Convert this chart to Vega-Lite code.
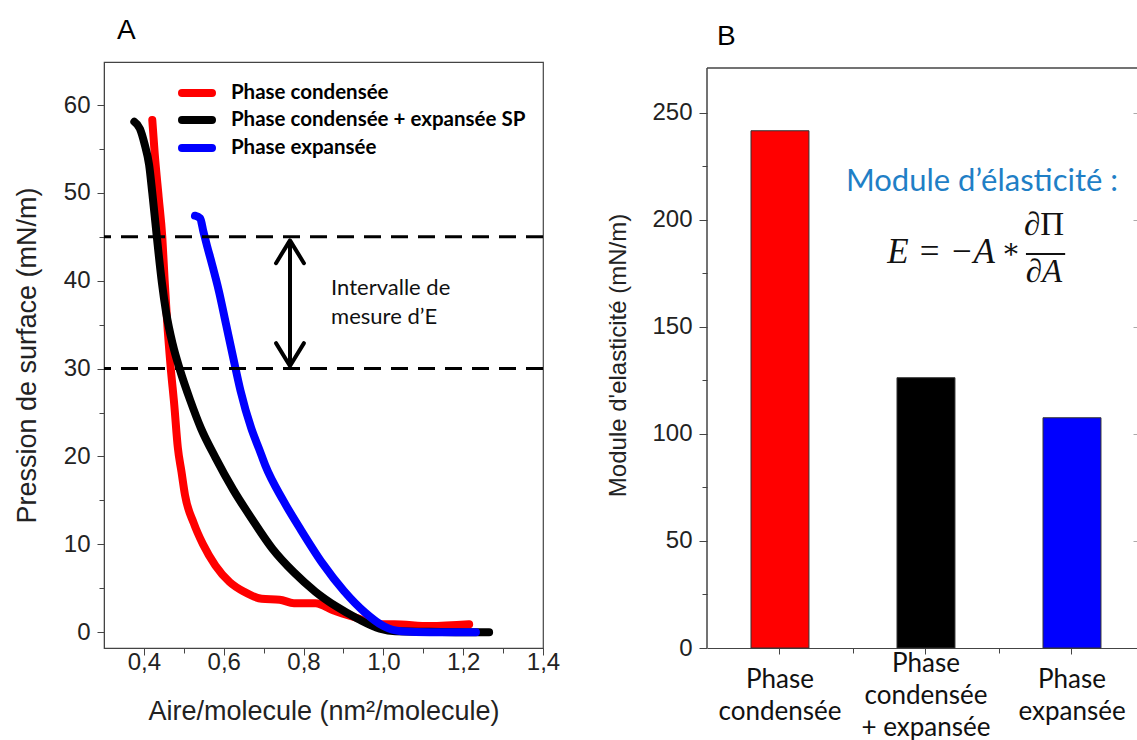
{
  "$schema": "https://vega.github.io/schema/vega-lite/v6.json",
  "background": "white",
  "padding": {"left": 12, "top": 16, "right": 0, "bottom": 0},
  "spacing": 164,
  "bounds": "flush",
  "config": {
    "view": {"stroke": "#444", "strokeWidth": 1.2},
    "axis": {"grid": false, "labelOverlap": false, "labelFlush": false}
  },
  "datasets": {
    "curves": [
      {"s": "Phase condensée", "x": 0.421, "y": 58.3},
      {"s": "Phase condensée", "x": 0.427, "y": 54.5},
      {"s": "Phase condensée", "x": 0.437, "y": 49.5},
      {"s": "Phase condensée", "x": 0.446, "y": 45.0},
      {"s": "Phase condensée", "x": 0.452, "y": 40.0},
      {"s": "Phase condensée", "x": 0.458, "y": 35.5},
      {"s": "Phase condensée", "x": 0.467, "y": 30.2},
      {"s": "Phase condensée", "x": 0.476, "y": 25.9},
      {"s": "Phase condensée", "x": 0.485, "y": 21.0},
      {"s": "Phase condensée", "x": 0.494, "y": 18.3},
      {"s": "Phase condensée", "x": 0.503, "y": 15.6},
      {"s": "Phase condensée", "x": 0.525, "y": 12.4},
      {"s": "Phase condensée", "x": 0.548, "y": 10.0},
      {"s": "Phase condensée", "x": 0.579, "y": 7.6},
      {"s": "Phase condensée", "x": 0.615, "y": 5.7},
      {"s": "Phase condensée", "x": 0.651, "y": 4.6},
      {"s": "Phase condensée", "x": 0.695, "y": 3.8},
      {"s": "Phase condensée", "x": 0.74, "y": 3.7},
      {"s": "Phase condensée", "x": 0.776, "y": 3.3},
      {"s": "Phase condensée", "x": 0.83, "y": 3.3},
      {"s": "Phase condensée", "x": 0.874, "y": 2.5},
      {"s": "Phase condensée", "x": 0.928, "y": 1.7},
      {"s": "Phase condensée", "x": 0.991, "y": 0.9},
      {"s": "Phase condensée", "x": 1.027, "y": 0.9},
      {"s": "Phase condensée", "x": 1.116, "y": 0.7},
      {"s": "Phase condensée", "x": 1.215, "y": 0.9},
      {"s": "Phase condensée + expansée SP", "x": 0.376, "y": 58.1},
      {"s": "Phase condensée + expansée SP", "x": 0.39, "y": 57.3},
      {"s": "Phase condensée + expansée SP", "x": 0.402, "y": 55.5},
      {"s": "Phase condensée + expansée SP", "x": 0.413, "y": 53.2},
      {"s": "Phase condensée + expansée SP", "x": 0.421, "y": 50.0},
      {"s": "Phase condensée + expansée SP", "x": 0.429, "y": 46.5},
      {"s": "Phase condensée + expansée SP", "x": 0.437, "y": 43.0},
      {"s": "Phase condensée + expansée SP", "x": 0.445, "y": 39.8},
      {"s": "Phase condensée + expansée SP", "x": 0.456, "y": 36.3},
      {"s": "Phase condensée + expansée SP", "x": 0.472, "y": 32.8},
      {"s": "Phase condensée + expansée SP", "x": 0.49, "y": 29.9},
      {"s": "Phase condensée + expansée SP", "x": 0.516, "y": 26.4},
      {"s": "Phase condensée + expansée SP", "x": 0.543, "y": 23.2},
      {"s": "Phase condensée + expansée SP", "x": 0.579, "y": 19.9},
      {"s": "Phase condensée + expansée SP", "x": 0.624, "y": 16.2},
      {"s": "Phase condensée + expansée SP", "x": 0.669, "y": 13.0},
      {"s": "Phase condensée + expansée SP", "x": 0.722, "y": 9.5},
      {"s": "Phase condensée + expansée SP", "x": 0.776, "y": 6.8},
      {"s": "Phase condensée + expansée SP", "x": 0.83, "y": 4.6},
      {"s": "Phase condensée + expansée SP", "x": 0.883, "y": 2.9},
      {"s": "Phase condensée + expansée SP", "x": 0.937, "y": 1.5},
      {"s": "Phase condensée + expansée SP", "x": 0.991, "y": 0.4},
      {"s": "Phase condensée + expansée SP", "x": 1.03, "y": 0.1},
      {"s": "Phase condensée + expansée SP", "x": 1.116, "y": 0.05},
      {"s": "Phase condensée + expansée SP", "x": 1.206, "y": 0.0},
      {"s": "Phase condensée + expansée SP", "x": 1.265, "y": 0.0},
      {"s": "Phase expansée", "x": 0.528, "y": 47.4},
      {"s": "Phase expansée", "x": 0.541, "y": 47.1},
      {"s": "Phase expansée", "x": 0.549, "y": 45.6},
      {"s": "Phase expansée", "x": 0.558, "y": 44.0},
      {"s": "Phase expansée", "x": 0.57, "y": 42.0},
      {"s": "Phase expansée", "x": 0.588, "y": 38.8},
      {"s": "Phase expansée", "x": 0.606, "y": 35.0},
      {"s": "Phase expansée", "x": 0.624, "y": 31.2},
      {"s": "Phase expansée", "x": 0.642, "y": 27.5},
      {"s": "Phase expansée", "x": 0.669, "y": 23.2},
      {"s": "Phase expansée", "x": 0.69, "y": 20.7},
      {"s": "Phase expansée", "x": 0.704, "y": 19.0},
      {"s": "Phase expansée", "x": 0.749, "y": 15.0},
      {"s": "Phase expansée", "x": 0.794, "y": 11.6},
      {"s": "Phase expansée", "x": 0.848, "y": 7.8},
      {"s": "Phase expansée", "x": 0.901, "y": 4.7},
      {"s": "Phase expansée", "x": 0.955, "y": 2.2},
      {"s": "Phase expansée", "x": 1.0, "y": 0.7},
      {"s": "Phase expansée", "x": 1.045, "y": 0.1},
      {"s": "Phase expansée", "x": 1.116, "y": 0.0},
      {"s": "Phase expansée", "x": 1.232, "y": 0.0}
    ],
    "dash": [{"y": 45}, {"y": 30}],
    "shaft": [{"x": 0.766, "y": 30.3, "y2": 44.6}],
    "chev": [
      {"g": "top", "x": 0.731, "y": 42.0},
      {"g": "top", "x": 0.766, "y": 44.6},
      {"g": "top", "x": 0.801, "y": 42.0},
      {"g": "bot", "x": 0.731, "y": 32.9},
      {"g": "bot", "x": 0.766, "y": 30.3},
      {"g": "bot", "x": 0.801, "y": 32.9}
    ],
    "atext": [
      {"t": "Intervalle de", "x": 0.869, "y": 39.2},
      {"t": "mesure d’E", "x": 0.869, "y": 35.9}
    ],
    "leg": [
      {"s": "Phase condensée", "x": 0.4954, "x2": 0.5706, "tx": 0.618, "y": 61.37},
      {"s": "Phase condensée + expansée SP", "x": 0.4954, "x2": 0.5706, "tx": 0.618, "y": 58.29},
      {"s": "Phase expansée", "x": 0.4954, "x2": 0.5706, "tx": 0.618, "y": 55.11}
    ],
    "bars": [
      {"label": "Phase|condensée", "v": 241.5},
      {"label": "Phase|condensée|+ expansée", "v": 126.2},
      {"label": "Phase|expansée", "v": 107.5}
    ],
    "frameB": [
      {"x": 0, "x2": 0, "y": 0, "y2": 270.8},
      {"x": 0, "x2": 1, "y": 270.8, "y2": 270.8}
    ]
  },
  "hconcat": [
    {
      "width": 439,
      "height": 586,
      "title": {"text": "A", "anchor": "start", "frame": "group", "dx": 13, "offset": -5, "baseline": "alphabetic", "fontSize": 28, "font": "Liberation Sans", "fontWeight": "normal", "color": "#000"},
      "resolve": {"axis": {"x": "independent", "y": "independent"}},
      "layer": [
        {
          "data": {"name": "curves"},
          "mark": {"type": "line", "strokeWidth": 8, "strokeCap": "round", "strokeJoin": "round", "interpolate": "monotone"},
          "encoding": {
            "x": {"field": "x", "type": "quantitative", "scale": {"domain": [0.3, 1.4], "nice": false, "zero": false},
              "axis": {"orient": "bottom", "values": [0.4, 0.6, 0.8, 1.0, 1.2, 1.4], "labelExpr": "replace(format(datum.value, '.1f'), '.', ',')", "title": "Aire/molecule (nm²/molecule)", "tickSize": 7, "tickColor": "#444", "domainColor": "#444", "labelFont": "Liberation Sans", "labelFontSize": 24, "labelColor": "#222", "labelPadding": -5, "titleFont": "Liberation Sans", "titleFontSize": 27, "titleFontWeight": "normal", "titleColor": "#222", "titlePadding": 24}},
            "y": {"field": "y", "type": "quantitative", "scale": {"domain": [-1.8, 64.9], "nice": false, "zero": false},
              "axis": {"orient": "left", "values": [0, 10, 20, 30, 40, 50, 60], "title": "Pression de surface (mN/m)", "tickSize": 7, "tickColor": "#444", "domainColor": "#444", "labelFont": "Liberation Sans", "labelFontSize": 24, "labelColor": "#222", "labelPadding": 7, "titleFont": "Liberation Sans", "titleFontSize": 27, "titleFontWeight": "normal", "titleColor": "#222", "titlePadding": 22}},
            "color": {"field": "s", "type": "nominal", "scale": {"domain": ["Phase condensée", "Phase condensée + expansée SP", "Phase expansée"], "range": ["#ff0000", "#000000", "#0000ff"]}, "legend": null}
          }
        },
        {
          "data": {"name": "dash"},
          "mark": {"type": "rule", "strokeDash": [17, 10], "strokeWidth": 3, "color": "#000"},
          "encoding": {"y": {"field": "y", "type": "quantitative", "axis": null}}
        },
        {
          "data": {"name": "shaft"},
          "mark": {"type": "rule", "strokeWidth": 4, "color": "#000"},
          "encoding": {
            "x": {"field": "x", "type": "quantitative", "axis": null},
            "y": {"field": "y", "type": "quantitative", "axis": null},
            "y2": {"field": "y2"}
          }
        },
        {
          "data": {"name": "chev"},
          "mark": {"type": "line", "strokeWidth": 4, "color": "#000", "strokeCap": "round", "strokeJoin": "round"},
          "encoding": {
            "x": {"field": "x", "type": "quantitative",
              "axis": {"orient": "bottom", "values": [0.5, 0.7, 0.9, 1.1, 1.3], "labels": false, "domain": false, "title": null, "tickSize": 5, "tickColor": "#444"}},
            "y": {"field": "y", "type": "quantitative",
              "axis": {"orient": "left", "values": [5, 15, 25, 35, 45, 55], "labels": false, "domain": false, "title": null, "tickSize": 5, "tickColor": "#444"}},
            "detail": {"field": "g", "type": "nominal"}
          }
        },
        {
          "data": {"name": "atext"},
          "mark": {"type": "text", "font": "Lato", "fontSize": 22, "align": "left", "baseline": "middle", "color": "#111"},
          "encoding": {
            "x": {"field": "x", "type": "quantitative", "axis": null},
            "y": {"field": "y", "type": "quantitative", "axis": null},
            "text": {"field": "t"}
          }
        },
        {
          "data": {"name": "leg"},
          "mark": {"type": "rule", "strokeWidth": 8, "strokeCap": "round"},
          "encoding": {
            "x": {"field": "x", "type": "quantitative", "axis": null},
            "x2": {"field": "x2"},
            "y": {"field": "y", "type": "quantitative", "axis": null},
            "color": {"field": "s", "type": "nominal", "legend": null}
          }
        },
        {
          "data": {"name": "leg"},
          "mark": {"type": "text", "font": "Lato", "fontWeight": "bold", "fontSize": 20.5, "align": "left", "baseline": "middle", "color": "#000"},
          "encoding": {
            "x": {"field": "tx", "type": "quantitative", "axis": null},
            "y": {"field": "y", "type": "quantitative", "axis": null},
            "text": {"field": "s"}
          }
        }
      ]
    },
    {
      "width": 431,
      "height": 586,
      "view": {"stroke": null},
      "title": {"text": "B", "anchor": "start", "frame": "group", "dx": 10, "offset": -11, "baseline": "alphabetic", "fontSize": 28, "font": "Liberation Sans", "fontWeight": "normal", "color": "#000"},
      "resolve": {"scale": {"x": "independent"}, "axis": {"x": "independent", "y": "independent"}},
      "layer": [
        {
          "data": {"name": "bars"},
          "mark": {"type": "bar", "stroke": "#333", "strokeWidth": 1},
          "encoding": {
            "x": {"field": "label", "type": "nominal", "sort": null,
              "scale": {"paddingInner": 0.603, "paddingOuter": 0.2774, "align": 0.543},
              "axis": {"orient": "bottom", "title": null, "labelAngle": 0, "labelExpr": "split(datum.label, '|')", "labelFont": "Lato", "labelFontSize": 26, "labelColor": "#111", "labelBaseline": "middle", "labelLineHeight": 32, "labelPadding": {"condition": {"test": "indexof(datum.label, '+') >= 0", "value": 9}, "value": 25}, "tickSize": 6, "tickColor": "#444", "domainColor": "#444", "labelLimit": 300}},
            "y": {"field": "v", "type": "quantitative", "scale": {"domain": [0, 273.6], "nice": false},
              "axis": {"orient": "left", "values": [0, 50, 100, 150, 200, 250], "title": "Module d'elasticité (mN/m)", "domain": false, "tickSize": 8, "tickColor": "#444", "labelFont": "Liberation Sans", "labelFontSize": 24, "labelColor": "#222", "labelPadding": 7, "titleFont": "Liberation Sans", "titleFontSize": 24, "titleFontWeight": "normal", "titleColor": "#222", "titlePadding": 21}},
            "color": {"field": "label", "type": "nominal", "scale": {"domain": ["Phase|condensée", "Phase|condensée|+ expansée", "Phase|expansée"], "range": ["#ff0000", "#000000", "#0000ff"]}, "legend": null}
          }
        },
        {
          "data": {"name": "frameB"},
          "mark": {"type": "rule", "color": "#444", "strokeWidth": 1.5},
          "encoding": {
            "x": {"field": "x", "type": "quantitative", "scale": {"domain": [0, 1], "nice": false, "zero": false},
              "axis": {"orient": "bottom", "values": [0.3387, 0.6775], "labels": false, "domain": false, "title": null, "tickSize": 5, "tickColor": "#444"}},
            "x2": {"field": "x2"},
            "y": {"field": "y", "type": "quantitative",
              "axis": {"orient": "left", "values": [25, 75, 125, 175, 225], "labels": false, "domain": false, "title": null, "tickSize": 5, "tickColor": "#444"}},
            "y2": {"field": "y2"}
          }
        },
        {
          "data": {"values": [{"t": "Module d’élasticité :", "x": 0.638, "y": 217.6}]},
          "mark": {"type": "text", "font": "Lato", "fontSize": 31, "align": "center", "baseline": "middle", "color": "#1f7fc6"},
          "encoding": {
            "x": {"field": "x", "type": "quantitative", "scale": {"domain": [0, 1], "nice": false, "zero": false}, "axis": null},
            "y": {"field": "y", "type": "quantitative",
              "axis": {"orient": "right", "values": [50, 100, 150, 200, 250], "labels": false, "domain": false, "title": null, "tickSize": -5, "tickColor": "#aaa"}},
            "text": {"field": "t"}
          }
        },
        {
          "data": {"values": [{"t": "E = −A", "x": 0.543, "y": 184.9}]},
          "mark": {"type": "text", "font": "Liberation Serif", "fontStyle": "italic", "fontSize": 35, "align": "center", "baseline": "middle", "color": "#111"},
          "encoding": {
            "x": {"field": "x", "type": "quantitative", "scale": {"domain": [0, 1], "nice": false, "zero": false}, "axis": null},
            "y": {"field": "y", "type": "quantitative", "axis": null},
            "text": {"field": "t"}
          }
        },
        {
          "data": {"values": [{"t": "∗", "x": 0.705, "y": 185.8}]},
          "mark": {"type": "text", "font": "DejaVu Serif", "fontSize": 28, "align": "center", "baseline": "middle", "color": "#111"},
          "encoding": {
            "x": {"field": "x", "type": "quantitative", "scale": {"domain": [0, 1], "nice": false, "zero": false}, "axis": null},
            "y": {"field": "y", "type": "quantitative", "axis": null},
            "text": {"field": "t"}
          }
        },
        {
          "data": {"values": [{"t": "∂Π", "x": 0.782, "y": 197.5}]},
          "mark": {"type": "text", "font": "Liberation Serif", "fontSize": 33, "align": "center", "baseline": "middle", "color": "#111"},
          "encoding": {
            "x": {"field": "x", "type": "quantitative", "scale": {"domain": [0, 1], "nice": false, "zero": false}, "axis": null},
            "y": {"field": "y", "type": "quantitative", "axis": null},
            "text": {"field": "t"}
          }
        },
        {
          "data": {"values": [{"t": "∂A", "x": 0.782, "y": 175.5}]},
          "mark": {"type": "text", "font": "Liberation Serif", "fontStyle": "italic", "fontSize": 33, "align": "center", "baseline": "middle", "color": "#111"},
          "encoding": {
            "x": {"field": "x", "type": "quantitative", "scale": {"domain": [0, 1], "nice": false, "zero": false}, "axis": null},
            "y": {"field": "y", "type": "quantitative", "axis": null},
            "text": {"field": "t"}
          }
        },
        {
          "data": {"values": [{"x": 0.74, "x2": 0.831, "y": 183.9}]},
          "mark": {"type": "rule", "strokeWidth": 2, "color": "#111"},
          "encoding": {
            "x": {"field": "x", "type": "quantitative", "scale": {"domain": [0, 1], "nice": false, "zero": false}, "axis": null},
            "x2": {"field": "x2"},
            "y": {"field": "y", "type": "quantitative", "axis": null}
          }
        }
      ]
    }
  ]
}
